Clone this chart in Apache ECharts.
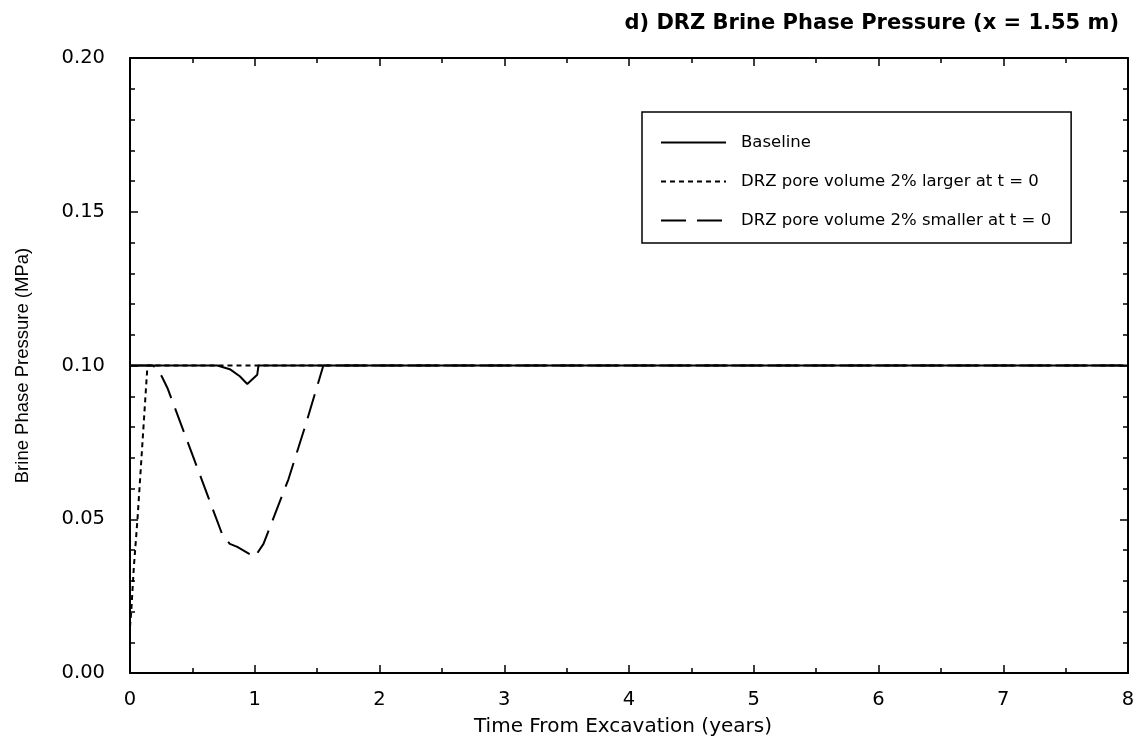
<!DOCTYPE html>
<html>
<head>
<meta charset="utf-8">
<title>DRZ Brine Phase Pressure</title>
<script src="https://cdn.jsdelivr.net/npm/echarts@6/dist/echarts.min.js"></script>
<style>
  html, body { margin: 0; padding: 0; background: #fff; }
  #chart { width: 1142px; height: 747px; }
</style>
</head>
<body>
<div id="chart"></div>
<script>
// Time from excavation (years) vs brine phase pressure (MPa) at x = 1.55 m
const baselineData = [
  [0, 0.1], [0.70, 0.1], [0.80, 0.0988], [0.88, 0.0965], [0.94, 0.094],
  [1.02, 0.097], [1.03, 0.1], [8, 0.1]
];
const largerData = [
  [0, 0.015], [0.01, 0.02], [0.03, 0.034], [0.06, 0.05], [0.10, 0.075],
  [0.14, 0.1], [1.03, 0.1], [8, 0.1]
];
const smallerData = [
  [0, 0.1], [0.18, 0.1], [0.22, 0.099], [0.26, 0.096], [0.30, 0.0927],
  [0.50, 0.071], [0.74, 0.045], [0.80, 0.042], [0.86, 0.041], [1.00, 0.0377],
  [1.07, 0.042], [1.27, 0.063], [1.41, 0.081], [1.55, 0.1], [8, 0.1]
];
const seriesNames = [
  'Baseline',
  'DRZ pore volume 2% larger at t = 0',
  'DRZ pore volume 2% smaller at t = 0'
];

const WIDE = '"DejaVu Sans", Verdana, sans-serif';
const NARROW = '"Liberation Sans", Arial, Helvetica, sans-serif';
const axisLine = { lineStyle: { color: '#000', width: 2 } };

function xAxisCfg(pos, showLabels) {
  return {
    type: 'value', position: pos, min: 0, max: 8, interval: 1,
    axisLine: Object.assign({ onZero: false }, axisLine),
    axisTick: { show: true, inside: true, length: 8, lineStyle: { color: '#000', width: 1.5 } },
    minorTick: { show: true, splitNumber: 2, length: 5, lineStyle: { color: '#000', width: 1.5 } },
    splitLine: { show: false },
    axisLabel: { show: showLabels, color: '#000', fontFamily: WIDE, fontSize: 19.5, margin: 17 },
    name: showLabels ? 'Time From Excavation (years)' : '',
    nameLocation: 'middle', nameGap: 44,
    nameTextStyle: { color: '#000', fontFamily: WIDE, fontSize: 20, padding: [0, 12, 0, 0] }
  };
}
function yAxisCfg(pos, showLabels) {
  return {
    type: 'value', position: pos, min: 0, max: 0.2, interval: 0.05,
    axisLine: Object.assign({ onZero: false }, axisLine),
    axisTick: { show: true, inside: true, length: 8, lineStyle: { color: '#000', width: 1.5 } },
    minorTick: { show: true, splitNumber: 5, length: 5, lineStyle: { color: '#000', width: 1.5 } },
    splitLine: { show: false },
    axisLabel: { show: showLabels, color: '#000', fontFamily: WIDE, fontSize: 19.5, margin: 25,
      formatter: v => v.toFixed(2) },
    name: showLabels ? 'Brine Phase Pressure (MPa)' : '',
    nameLocation: 'middle', nameGap: 98,
    nameTextStyle: { color: '#000', fontFamily: NARROW, fontSize: 18.5 }
  };
}

const chart = echarts.init(document.getElementById('chart'));
chart.setOption({
  backgroundColor: '#fff',
  animation: false,
  color: ['#000', '#000', '#000'],
  title: {
    text: 'd) DRZ Brine Phase Pressure (x = 1.55 m)',
    right: 18, top: 8,
    textStyle: { color: '#000', fontFamily: WIDE, fontSize: 21, fontWeight: 'bold' }
  },
  grid: { left: 130, right: 14, top: 58, bottom: 74 },
  xAxis: [xAxisCfg('bottom', true), xAxisCfg('top', false)],
  yAxis: [yAxisCfg('left', true), yAxisCfg('right', false)],
  legend: {
    orient: 'vertical', left: 642, top: 112,
    padding: [22, 20, 14, 18],
    itemGap: 22, itemWidth: 65, itemHeight: 14,
    borderColor: '#000', borderWidth: 1.5,
    itemStyle: { opacity: 0 },
    textStyle: { color: '#000', fontFamily: WIDE, fontSize: 16.5, padding: [0, 0, 0, 10] },
    data: seriesNames
  },
  series: [
    {
      name: seriesNames[1], type: 'line', data: largerData, symbol: 'none', z: 2,
      itemStyle: { color: '#000' },
      lineStyle: { color: '#000', width: 2, type: [5, 4] }
    },
    {
      name: seriesNames[2], type: 'line', data: smallerData, symbol: 'none', z: 3,
      itemStyle: { color: '#000' },
      lineStyle: { color: '#000', width: 2, type: [25, 11] }
    },
    {
      name: seriesNames[0], type: 'line', data: baselineData, symbol: 'none', z: 4,
      itemStyle: { color: '#000' },
      lineStyle: { color: '#000', width: 2, type: 'solid' }
    }
  ]
});
</script>
</body>
</html>
